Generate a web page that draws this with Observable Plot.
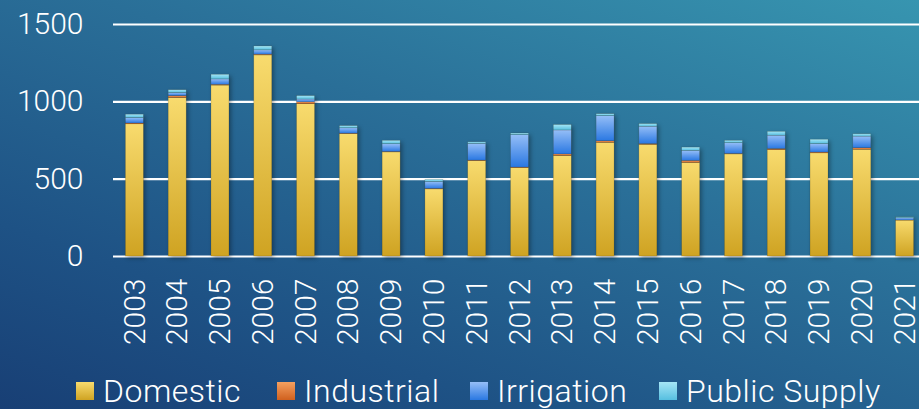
<!DOCTYPE html>
<html>
<head>
<meta charset="utf-8">
<script src="https://cdn.jsdelivr.net/npm/d3@7"></script>
<script src="https://cdn.jsdelivr.net/npm/@observablehq/plot@0.6"></script>
<style>
  html, body { margin: 0; padding: 0; width: 919px; height: 409px; overflow: hidden; }
  body {
    background: linear-gradient(200deg, #3795b0 0%, #2a6f98 40%, #1e5285 75%, #183f75 100%);
    font-family: Roboto, "Liberation Sans", sans-serif;
    position: relative;
  }
  #chart svg { display: block; overflow: visible; }
  #legend { position: absolute; left: 76px; top: 372px; }
  .lg-swatch { margin-right: 0 !important; display: inline-flex; white-space: nowrap; }
  .lg-swatch:nth-of-type(1) { width: 201px; }
  .lg-swatch:nth-of-type(2) { width: 193px; }
  .lg-swatch:nth-of-type(3) { width: 189px; }
  .lg-swatch > svg { margin-right: 9px !important; }
</style>
</head>
<body>
<div id="chart"></div>
<div id="legend"></div>
<script>
const years = ["2003","2004","2005","2006","2007","2008","2009","2010","2011","2012","2013","2014","2015","2016","2017","2018","2019","2020","2021"];
const series = ["Domestic", "Industrial", "Irrigation", "Public Supply"];
const domestic     = [855, 1025, 1105, 1300, 985, 791, 673, 434, 617, 572, 650, 735, 722, 605, 660, 688, 667, 690, 232];
const industrial   = [5, 12, 5, 5, 12, 3, 3, 3, 3, 3, 10, 10, 5, 13, 3, 7, 5, 10, 1];
const irrigation   = [35, 20, 35, 28, 18, 35, 50, 45, 108, 210, 155, 163, 112, 65, 70, 86, 55, 75, 14];
const publicSupply = [22, 18, 30, 25, 22, 14, 22, 14, 10, 10, 35, 12, 17, 21, 15, 25, 28, 15, 6];
const yTicks = [0, 500, 1000, 1500];

const seriesValues = [domestic, industrial, irrigation, publicSupply];
const data = [];
series.forEach((s, i) => years.forEach((y, j) => data.push({year: y, series: s, value: seriesValues[i][j]})));

const fills = ["url(#gDom)", "url(#gInd)", "url(#gIrr)", "url(#gPub)"];

const chart = Plot.plot({
  width: 919,
  height: 365,
  marginLeft: 113,
  marginRight: 0,
  marginTop: 24,
  marginBottom: 109,
  style: {background: "transparent", color: "white", fontFamily: "Roboto, 'Liberation Sans', sans-serif", fontSize: "30px", fontWeight: 300},
  x: {domain: years, range: [113, 926], round: false, paddingInner: 0.58, paddingOuter: 0.29, label: null},
  y: {domain: [0, 1500], label: null},
  color: {domain: series, range: fills},
  marks: [
    Plot.ruleY(yTicks, {stroke: "white", strokeWidth: 2.2}),
    Plot.barY(data, Plot.stackY({x: "year", y: "value", fill: "series", order: series, stroke: "rgba(60,40,0,0.25)", strokeWidth: 0.6})),
    Plot.axisY(yTicks, {tickSize: 0, tickPadding: 30, fill: "white", fontSize: 30, label: null, tickFormat: d => String(d)}),
    Plot.axisX({tickSize: 0, tickPadding: 22, tickRotate: -90, fill: "white", fontSize: 30, label: null})
  ]
});

// gradients
const svg = d3.select(chart);
const defs = svg.insert("defs", ":first-child");
function grad(id, top, bottom) {
  const g = defs.append("linearGradient").attr("id", id).attr("x1", 0).attr("y1", 0).attr("x2", 0).attr("y2", 1);
  g.append("stop").attr("offset", "0%").attr("stop-color", top);
  g.append("stop").attr("offset", "100%").attr("stop-color", bottom);
}
grad("gDom", "#f8db6e", "#cfa322");
grad("gInd", "#f4a060", "#d0601e");
grad("gIrr", "#95bef7", "#2a78e2");
grad("gPub", "#a6e6f6", "#56bfe0");
svg.selectAll("g[aria-label='bar']").style("filter", "drop-shadow(2px 2px 2px rgba(0,0,0,0.35))");

document.getElementById("chart").appendChild(chart);

const legend = Plot.legend({
  color: {type: "ordinal", domain: series, range: fills},
  legend: "swatches",
  swatchSize: 18,
  className: "lg",
  style: {color: "white", fontFamily: "Roboto, 'Liberation Sans', sans-serif", fontSize: "32px", fontWeight: 300, letterSpacing: "0.5px", margin: 0}
});
document.getElementById("legend").appendChild(legend);
</script>
</body>
</html>
